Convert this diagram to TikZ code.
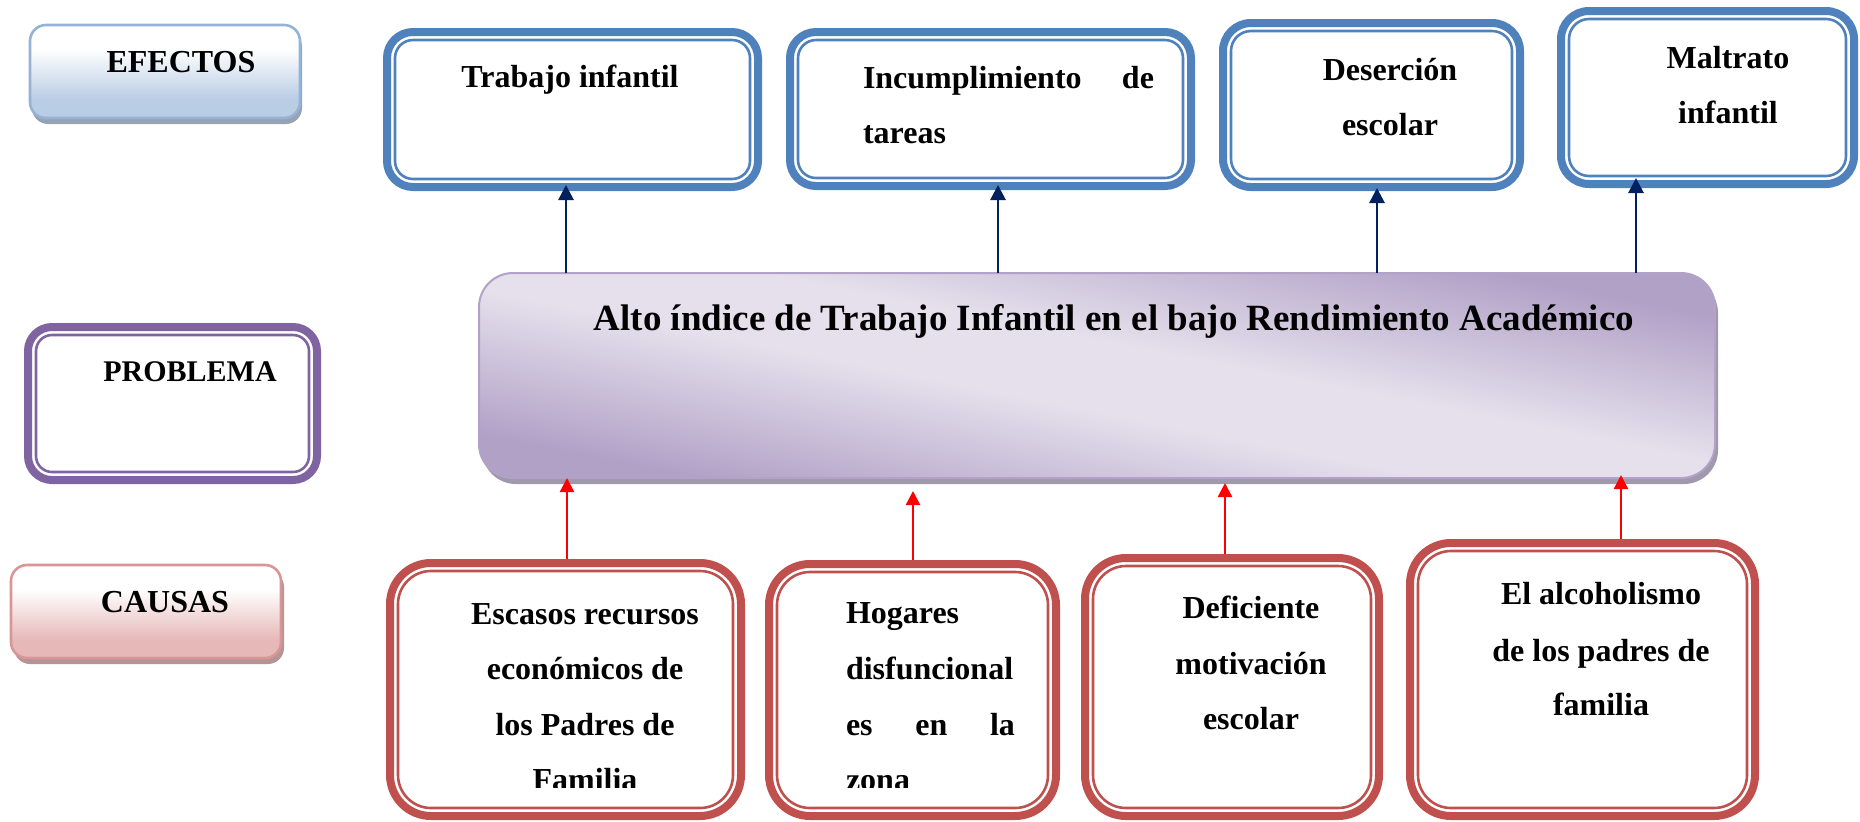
\documentclass[tikz,border=0pt]{standalone}
\usepackage{fontspec}
\setmainfont{Liberation Serif}
\usetikzlibrary{arrows.meta}
\definecolor{bluebd}{HTML}{4F81BD}
\definecolor{redbd}{HTML}{C0504D}
\definecolor{purbd}{HTML}{8064A2}
\definecolor{navyarr}{HTML}{002060}
\definecolor{redarr}{HTML}{FF0000}
\definecolor{eblue}{HTML}{B9CDE5}
\definecolor{eblueb}{HTML}{95B3D7}
\definecolor{eshadow}{HTML}{97A3B3}
\definecolor{cpink}{HTML}{E6B9B8}
\definecolor{cpinkb}{HTML}{D99694}
\definecolor{cshadow}{HTML}{B49494}
\definecolor{plight}{HTML}{E5E0EC}
\definecolor{pdark}{HTML}{B2A1C7}
\definecolor{pborder}{HTML}{B3A2C7}
\definecolor{pshadow}{HTML}{A098AC}
\pgfdeclareverticalshading{efgrad}{100bp}{color(0bp)=(eblue); color(35bp)=(eblue); color(62bp)=(white); color(100bp)=(white)}
\pgfdeclareverticalshading{cagrad}{100bp}{color(0bp)=(cpink); color(35bp)=(cpink); color(62bp)=(white); color(100bp)=(white)}
\pgfdeclarehorizontalshading{prgrad}{100bp}{color(0bp)=(pdark); color(30bp)=(pdark); color(46bp)=(plight); color(54bp)=(plight); color(70bp)=(pdark); color(100bp)=(pdark)}
\newcommand\mydbox[7]{%
  \node[inner sep=0pt, outer sep=0pt, minimum width={(#4-#2)*0.5pt}, minimum height={(#5-#3)*0.5pt}] (#1) at ({(#2+#4)/2},{(#3+#5)/2}) {};
  \draw[#6, line width=4pt, rounded corners={(#7-4)*0.5pt}] ([shift={(4,4)}]#1.north west) rectangle ([shift={(-4,-4)}]#1.south east);
  \draw[#6, line width=1.3pt, rounded corners={(#7-12)*0.5pt}] ([shift={(12,12)}]#1.north west) rectangle ([shift={(-12,-12)}]#1.south east);
}
\begin{document}
\begin{tikzpicture}[x=0.5pt,y=-0.5pt,
  txt/.style={font=\bfseries\fontsize{16}{20}\selectfont, inner sep=0pt, outer sep=0pt, text=black},
  labbox/.style={inner sep=0pt, outer sep=0pt, rounded corners=8pt, line width=1.3pt, shade},
  navyline/.style={navyarr, line width=1.4pt, -{Triangle[width=7.5pt,length=7.5pt]}},
  redline/.style={redarr, line width=1.2pt, -{Triangle[width=7pt,length=7pt]}}]
\useasboundingbox (0,0) rectangle (1860,821);
\fill[white] (0,0) rectangle (1860,821);

% label boxes
\fill[eshadow, rounded corners=8pt] (32,31) rectangle (302,124);
\node[labbox, shading=efgrad, draw=eblueb, minimum width=135pt, minimum height=46.5pt] (efectos) at (165,71.5) {};
\node[txt, anchor=base] (efectosT) at (181,72) {EFECTOS};

\fill[cshadow, rounded corners=8pt] (14,571) rectangle (284,664);
\node[labbox, shading=cagrad, draw=cpinkb, minimum width=135pt, minimum height=46.5pt] (causas) at (146,611.5) {};
\node[txt, anchor=base] (causasT) at (165,612) {CAUSAS};

\mydbox{prob}{24}{323}{321}{484}{purbd}{28}
\node[txt, font=\bfseries\fontsize{15}{20}\selectfont, anchor=base] (probT) at (190,381) {PROBLEMA};

% main problem box
\fill[pshadow, rounded corners=17pt] (482,279) rectangle (1718,484);
\node[inner sep=0pt, outer sep=0pt, minimum width=618pt, minimum height=102.5pt] (main) at (1097,375.5) {};
\begin{scope}
  \clip[rounded corners=17pt] (main.north west) rectangle (main.south east);
  \begin{scope}[transform canvas={shift={(main.center)}, xscale=6.0293}]
    \begin{scope}[transform canvas={rotate=40}]
      \shade[shading=prgrad] (-72.5pt,-72.5pt) rectangle (72.5pt,72.5pt);
    \end{scope}
  \end{scope}
\end{scope}
\draw[pborder, line width=1pt, rounded corners=17pt] (main.north west) rectangle (main.south east);
\node[txt, font=\bfseries\fontsize{18.5}{22}\selectfont, anchor=base] (mainT) at (1114,330) {Alto índice de Trabajo Infantil en el bajo Rendimiento Académico};

% effects
\mydbox{e1}{383}{28}{762}{191}{bluebd}{30}
\mydbox{e2}{786}{28}{1195}{190}{bluebd}{30}
\mydbox{e3}{1219}{19}{1524}{191}{bluebd}{32}
\mydbox{e4}{1557}{7}{1858}{188}{bluebd}{32}
\node[txt, anchor=base] (e1t) at (570,87) {Trabajo infantil};
\node[txt, anchor=base west] (e2t1) at (863,88) {\makebox[145.5pt][l]{Incumplimiento\hfill de}};
\node[txt, anchor=base west] (e2t2) at (863,143) {tareas};
\node[txt, anchor=base] (e3t1) at (1390,80) {Deserción};
\node[txt, anchor=base] (e3t2) at (1390,135) {escolar};
\node[txt, anchor=base] (e4t1) at (1728,68) {Maltrato};
\node[txt, anchor=base] (e4t2) at (1728,123) {infantil};

% causes
\mydbox{c1}{386}{559}{745}{820}{redbd}{45}
\mydbox{c2}{765}{560}{1060}{820}{redbd}{45}
\mydbox{c3}{1081}{554}{1383}{820}{redbd}{45}
\mydbox{c4}{1406}{539}{1759}{820}{redbd}{45}
\node[txt, anchor=base] (c1t1) at (585,624) {Escasos recursos};
\node[txt, anchor=base] (c1t2) at (585,679) {económicos de};
\node[txt, anchor=base] (c1t3) at (585,735) {los Padres de};
\node[txt, anchor=base west] (c2t1) at (846,623) {Hogares};
\node[txt, anchor=base west] (c2t2) at (846,679) {disfuncional};
\node[txt, anchor=base west] (c2t3) at (846,735) {\makebox[84.5pt][l]{es\hfill en\hfill la}};
\begin{scope}
  \clip (380,740) rectangle (1070,787);
  \node[txt, anchor=base] (c1t4) at (585,790) {Familia};
  \node[txt, anchor=base west] (c2t4) at (846,790) {zona};
\end{scope}
\node[txt, anchor=base] (c3t1) at (1251,618) {Deficiente};
\node[txt, anchor=base] (c3t2) at (1251,674) {motivación};
\node[txt, anchor=base] (c3t3) at (1251,729) {escolar};
\node[txt, anchor=base] (c4t1) at (1601,604) {El alcoholismo};
\node[txt, anchor=base] (c4t2) at (1601,661) {de los padres de};
\node[txt, anchor=base] (c4t3) at (1601,715) {familia};

% connectors
\coordinate (ax1) at (566,0);
\coordinate (ax2) at (998,0);
\coordinate (ax3) at (1377,0);
\coordinate (ax4) at (1636,0);
\draw[navyline, shorten >=-3pt] (ax1 |- main.north) -- (ax1 |- e1.south);
\draw[navyline, shorten >=-2.5pt] (ax2 |- main.north) -- (ax2 |- e2.south);
\draw[navyline, shorten >=-1.5pt] (ax3 |- main.north) -- (ax3 |- e3.south);
\draw[navyline, shorten >=-5pt] (ax4 |- main.north) -- (ax4 |- e4.south);
\coordinate (bx1) at (567,0);
\coordinate (bx2) at (913,0);
\coordinate (bx3) at (1225,0);
\coordinate (bx4) at (1621,0);
\draw[redline] (bx1 |- c1.north) -- (bx1 |- main.south);
\draw[redline, shorten >=6.5pt] (bx2 |- c2.north) -- (bx2 |- main.south);
\draw[redline, shorten >=2.5pt] (bx3 |- c3.north) -- (bx3 |- main.south);
\draw[redline, shorten >=-1.5pt] (bx4 |- c4.north) -- (bx4 |- main.south);
\end{tikzpicture}
\end{document}
